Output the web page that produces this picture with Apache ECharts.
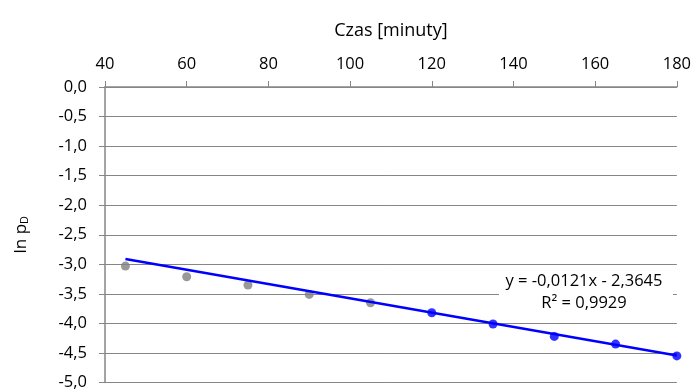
<!DOCTYPE html>
<html><head><meta charset="utf-8">
<script src="https://cdn.jsdelivr.net/npm/echarts@6/dist/echarts.min.js"></script>
<style>html,body{margin:0;padding:0;background:#fff}#c{width:694px;height:391px}</style>
</head><body><div id="c"></div>
<script>
const grayX = [45, 60, 75, 90, 105];
const grayY = [-3.03, -3.21, -3.35, -3.51, -3.65];
const blueX = [120, 135, 150, 165, 180];
const blueY = [-3.82, -4.01, -4.22, -4.35, -4.55];
const trendX = [45, 180];
const trendY = [-2.909, -4.5425];
const xTitle = 'Czas [minuty]';
const eqLine1 = 'y = -0,0121x - 2,3645';
const eqLine2 = 'R² = 0,9929';

const font = '"Open Sans", sans-serif';
const chart = echarts.init(document.getElementById('c'));
const zip = (a, b) => a.map((v, i) => [v, b[i]]);
chart.setOption({
  animation: false,
  grid: {left: 105, right: 15, top: 87, bottom: 5, containLabel: false},
  xAxis: {
    type: 'value', position: 'top', min: 40, max: 180, interval: 20,
    name: xTitle, nameLocation: 'middle', nameGap: 47,
    nameTextStyle: {fontFamily: font, fontSize: 18, color: '#000'},
    axisLine: {show: true, lineStyle: {color: '#868686', width: 1.5}},
    axisTick: {show: true, inside: false, length: 6, lineStyle: {color: '#868686'}},
    axisLabel: {fontFamily: font, fontSize: 16.5, color: '#000', margin: 14},
    splitLine: {show: false}
  },
  yAxis: {
    type: 'value', min: -5, max: 0, interval: 0.5,
    name: '{a|ln p}{b|D}', nameLocation: 'middle', nameGap: 75, nameRotate: 90,
    nameTextStyle: {rich: {
      a: {fontFamily: font, fontSize: 17, color: '#000'},
      b: {fontFamily: font, fontSize: 11, color: '#000', verticalAlign: 'bottom', padding: [7, 0, 0, 0]}
    }},
    axisLine: {show: true, lineStyle: {color: '#868686', width: 1.5}},
    axisTick: {show: true, inside: false, length: 6, lineStyle: {color: '#868686'}},
    axisLabel: {fontFamily: font, fontSize: 16.5, color: '#000', margin: 18,
      formatter: v => v.toFixed(1).replace('.', ',')},
    splitLine: {show: true, lineStyle: {color: '#868686', width: 1}}
  },
  series: [
    {type: 'scatter', data: zip(grayX, grayY), symbolSize: 9, itemStyle: {color: '#808080'}, z: 3},
    {type: 'scatter', data: zip(blueX, blueY), symbolSize: 9, itemStyle: {color: '#0000ff'}, z: 3},
    {type: 'line', data: zip(trendX, trendY), symbol: 'none', lineStyle: {color: '#0000ff', width: 2.5}, z: 4}
  ],
  graphic: [
    {type: 'rect', shape: {x: 499, y: 265, width: 174, height: 54}, style: {fill: '#fff'}, z: 10},
    {type: 'text', x: 584, y: 281, style: {text: eqLine1, font: '16.5px ' + font, fill: '#000', textAlign: 'center', textVerticalAlign: 'middle'}, z: 11},
    {type: 'text', x: 584, y: 303, style: {text: eqLine2, font: '16.5px ' + font, fill: '#000', textAlign: 'center', textVerticalAlign: 'middle'}, z: 11}
  ]
});
</script></body></html>
